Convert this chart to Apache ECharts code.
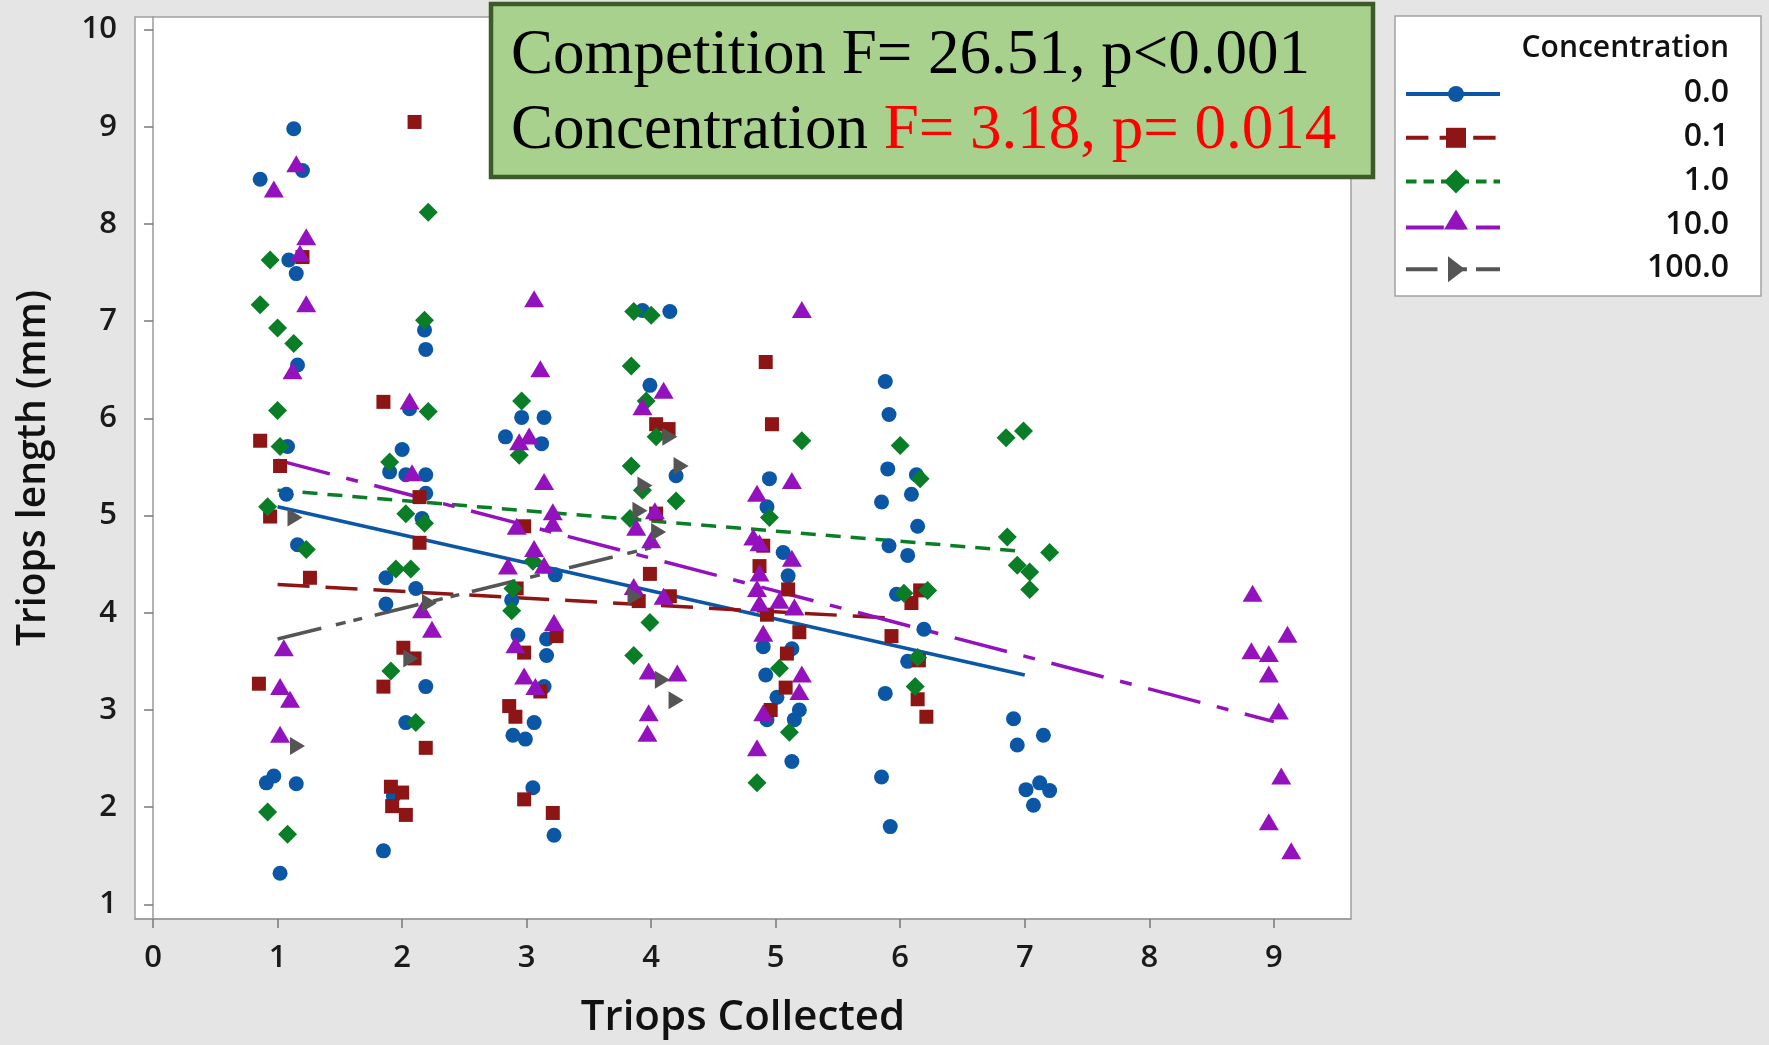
<!DOCTYPE html>
<html>
<head>
<meta charset="utf-8">
<script src="https://cdn.jsdelivr.net/npm/echarts@6/dist/echarts.min.js"></script>
<style>
  html, body { margin: 0; padding: 0; background: #e5e5e5; }
  #chart { width: 1769px; height: 1045px; }
</style>
</head>
<body>
<div id="chart"></div>
<script>
// Triops length vs number collected, by concentration (jittered x)
const concentrations = ["0.0", "0.1", "1.0", "10.0", "100.0"];
const xTicks = [0, 1, 2, 3, 4, 5, 6, 7, 8, 9];
const yTicks = [1, 2, 3, 4, 5, 6, 7, 8, 9, 10];

const pts00 = [
  [1.13, 8.98], [1.20, 8.55], [0.86, 8.46], [1.09, 7.63], [1.15, 7.49], [1.16, 6.55], [1.08, 5.71], [1.07, 5.22], [1.16, 4.70],
  [0.91, 2.25], [0.97, 2.32], [1.15, 2.24], [1.02, 1.32],
  [2.18, 6.91], [2.19, 6.71], [2.06, 6.10], [2.00, 5.68], [1.90, 5.45], [2.03, 5.42], [2.19, 5.42], [2.19, 5.23], [2.16, 4.97],
  [1.87, 4.36], [2.11, 4.25], [1.87, 4.09], [2.19, 3.24], [2.03, 2.87], [1.93, 2.11], [1.85, 1.55],
  [2.96, 6.01], [3.14, 6.01], [2.83, 5.81], [3.12, 5.74], [3.23, 4.39], [2.88, 4.13], [2.93, 3.77], [3.16, 3.73], [3.16, 3.56],
  [3.14, 3.24], [3.06, 2.87], [2.89, 2.74], [2.99, 2.70], [3.05, 2.20], [3.22, 1.71],
  [3.93, 7.11], [4.15, 7.10], [3.99, 6.34], [4.20, 5.41],
  [4.95, 5.38], [4.93, 5.09], [5.06, 4.62], [5.10, 4.38], [4.90, 3.65], [5.13, 3.63], [4.92, 3.36], [5.01, 3.13], [5.19, 3.00],
  [4.93, 2.90], [5.15, 2.90], [5.13, 2.47],
  [5.88, 6.38], [5.91, 6.04], [5.90, 5.48], [6.13, 5.42], [6.09, 5.22], [5.85, 5.14], [6.14, 4.89], [5.91, 4.69], [6.06, 4.59],
  [5.97, 4.19], [6.19, 3.83], [6.06, 3.50], [5.88, 3.17], [5.85, 2.31], [5.92, 1.80],
  [6.91, 2.91], [7.15, 2.74], [6.94, 2.64], [7.01, 2.18], [7.12, 2.25], [7.20, 2.17], [7.07, 2.02]
];
const pts01 = [
  [1.20, 7.66], [0.86, 5.77], [1.02, 5.51], [0.94, 4.99], [1.26, 4.36], [0.85, 3.27],
  [2.10, 9.05], [1.85, 6.17], [2.14, 5.19], [2.14, 4.72], [2.01, 3.64], [2.10, 3.53], [1.85, 3.24], [2.19, 2.61],
  [1.91, 2.21], [2.00, 2.15], [1.92, 2.01], [2.03, 1.92],
  [2.98, 4.89], [2.92, 4.25], [3.24, 3.76], [2.98, 3.59], [3.11, 3.19], [2.86, 3.04], [2.91, 2.93], [2.98, 2.08], [3.21, 1.94],
  [4.04, 5.94], [4.14, 5.89], [4.04, 5.02], [3.99, 4.40], [3.90, 4.12], [4.15, 4.17],
  [4.92, 6.58], [4.97, 5.94], [4.90, 4.69], [4.87, 4.48], [5.10, 4.24], [4.93, 3.98], [5.19, 3.80], [5.09, 3.58], [5.08, 3.23], [4.96, 3.00],
  [6.16, 4.23], [6.09, 4.10], [5.93, 3.76], [6.15, 3.51], [6.14, 3.11], [6.21, 2.93]
];
const pts1 = [
  [0.94, 7.63], [0.86, 7.17], [1.00, 6.93], [1.13, 6.77], [1.00, 6.08], [1.02, 5.71], [0.92, 5.09], [1.23, 4.65], [0.92, 1.95], [1.08, 1.72],
  [2.21, 8.12], [2.18, 7.01], [2.21, 6.07], [1.90, 5.55], [2.03, 5.02], [2.18, 4.92], [1.95, 4.45], [2.07, 4.45], [1.91, 3.40], [2.11, 2.87],
  [2.96, 6.18], [2.94, 5.62], [3.05, 4.53], [2.89, 4.25], [2.88, 4.02],
  [3.86, 7.10], [4.00, 7.06], [3.84, 6.54], [3.96, 6.18], [4.04, 5.81], [3.84, 5.51], [3.93, 5.26], [4.20, 5.15], [3.83, 4.97], [3.99, 3.90], [3.86, 3.56],
  [5.21, 5.77], [4.95, 4.98], [5.03, 3.43], [5.11, 2.77], [4.85, 2.25],
  [6.00, 5.72], [6.16, 5.38], [6.03, 4.20], [6.22, 4.23], [6.14, 3.54], [6.12, 3.24],
  [6.85, 5.80], [6.99, 5.87], [6.86, 4.78], [7.20, 4.62], [6.94, 4.49], [7.04, 4.42], [7.04, 4.24]
];
const pts10 = [
  [1.15, 8.62], [0.97, 8.36], [1.23, 7.87], [1.18, 7.70], [1.23, 7.18], [1.12, 6.49], [1.05, 3.64], [1.02, 3.24], [1.10, 3.11], [1.02, 2.75],
  [2.06, 6.18], [2.08, 5.44], [2.16, 4.03], [2.24, 3.83],
  [3.06, 7.23], [3.11, 6.51], [2.94, 5.76], [3.02, 5.82], [3.14, 5.35], [2.92, 4.89], [3.21, 5.04], [3.21, 4.92], [3.06, 4.66],
  [2.85, 4.48], [3.14, 4.49], [3.22, 3.90], [2.91, 3.67], [2.98, 3.35], [3.07, 3.24],
  [4.10, 6.29], [3.93, 6.12], [4.03, 5.05], [3.88, 4.88], [4.00, 4.75], [3.86, 4.27], [4.10, 4.17], [3.98, 3.40], [4.21, 3.38], [3.98, 2.97], [3.97, 2.76],
  [5.21, 7.12], [5.13, 5.36], [4.85, 5.23], [4.82, 4.78], [4.87, 4.72], [5.13, 4.56], [4.87, 4.41], [4.85, 4.25], [4.87, 4.10],
  [5.03, 4.13], [5.15, 4.06], [4.90, 3.79], [5.21, 3.37], [5.19, 3.19], [4.90, 2.97], [4.85, 2.61],
  [8.83, 4.20], [9.11, 3.78], [8.82, 3.61], [8.96, 3.58], [8.96, 3.37], [9.04, 2.99], [9.06, 2.32], [8.96, 1.85], [9.14, 1.55]
];
const pts100 = [
  [1.14, 4.98], [1.16, 2.63], [2.22, 4.10], [2.07, 3.53],
  [4.15, 5.81], [4.24, 5.51], [3.95, 5.31], [3.91, 5.05], [4.06, 4.83], [3.87, 4.17], [4.09, 3.31], [4.20, 3.10]
];

// fitted regression lines (start / end)
const fit00 = [[1, 5.09], [7, 3.36]];
const fit01 = [[1, 4.29], [6, 3.94]];
const fit1 = [[1, 5.26], [7, 4.63]];
const fit10 = [[1, 5.57], [9, 2.88]];
const fit100 = [[1, 3.73], [4, 4.67]];

const points = [pts00, pts01, pts1, pts10, pts100];
const fits = [fit00, fit01, fit1, fit10, fit100];

const colors = ["#0b57a6", "#8e1515", "#0a7d27", "#9412bd", "#555555"];
const symbols = ["circle", "rect", "diamond", "triangle", "triangle"];
const symbolSizes = [15, 14, 19, [20, 17], [18, 15]];
const symbolRotates = [0, 0, 0, 0, -90];
const dashes = ["solid", [32, 16], [15, 10], [54, 17, 12, 17], [45, 15, 10, 8, 9, 13]];

const uiFont = "Open Sans";

const chart = echarts.init(document.getElementById("chart"));

const series = [];
concentrations.forEach((c, i) => {
  series.push({
    name: c + " fit",
    type: "line",
    data: fits[i],
    symbol: "none",
    z: 2,
    silent: true,
    lineStyle: { color: colors[i], width: 3.5, type: dashes[i] },
  });
});
concentrations.forEach((c, i) => {
  series.push({
    name: c,
    type: "scatter",
    data: points[i],
    symbol: symbols[i],
    symbolSize: symbolSizes[i],
    symbolRotate: symbolRotates[i],
    z: 3 + i,
    itemStyle: { color: colors[i], opacity: 1 },
  });
});

// legend drawn by hand so labels can sit right-aligned like Minitab
const legendEls = [
  { type: "rect", z: 50, shape: { x: 1395, y: 16, width: 366, height: 280 }, style: { fill: "#fff", stroke: "#a3a3a3", lineWidth: 1.5 } },
  { type: "text", z: 51, x: 1729, y: 48, style: { text: "Concentration", font: `600 30px "${uiFont}"`, fill: "#111", align: "right", verticalAlign: "middle" } },
];
concentrations.forEach((c, i) => {
  const cy = 94 + i * 43.8;
  const cx = 1456;
  const lineY = i === 3 ? cy + 2 : cy;
  legendEls.push({
    type: "line", z: 51,
    shape: { x1: 1406, y1: lineY, x2: 1500, y2: lineY },
    style: { stroke: colors[i], lineWidth: 4, lineDash: Array.isArray(dashes[i]) ? dashes[i].map((d) => d * 0.7) : null },
  });
  let sym;
  if (i === 0) sym = { type: "circle", shape: { cx, cy, r: 8 } };
  else if (i === 1) sym = { type: "rect", shape: { x: cx - 10, y: cy - 10, width: 20, height: 20 } };
  else if (i === 2) sym = { type: "polygon", shape: { points: [[cx, cy - 12], [cx + 12, cy], [cx, cy + 12], [cx - 12, cy]] } };
  else if (i === 3) sym = { type: "polygon", shape: { points: [[cx, cy - 16], [cx + 12, cy + 4], [cx - 12, cy + 4]] } };
  else sym = { type: "polygon", shape: { points: [[cx - 8, cy - 13], [cx + 9, cy], [cx - 8, cy + 13]] } };
  sym.z = 52;
  sym.style = { fill: colors[i] };
  legendEls.push(sym);
  legendEls.push({
    type: "text", z: 51, x: 1729, y: cy - 1,
    style: { text: c, font: `600 32px "${uiFont}"`, fill: "#111", align: "right", verticalAlign: "middle" },
  });
});

const noteEls = [
  { type: "rect", z: 60, shape: { x: 491, y: 4, width: 882, height: 173 }, style: { fill: "#a9d18e", stroke: "#3d5a29", lineWidth: 4.5 } },
  { type: "text", z: 61, x: 511, y: 56, style: { text: "Competition F= 26.51, p<0.001", font: '63px "Liberation Serif"', fill: "#000", verticalAlign: "middle" } },
  {
    type: "text", z: 61, x: 511, y: 131,
    style: {
      text: "{k|Concentration }{r|F= 3.18, p= 0.014}",
      verticalAlign: "middle",
      rich: {
        k: { font: '63px "Liberation Serif"', fill: "#000" },
        r: { font: '63px "Liberation Serif"', fill: "#ff0000" },
      },
    },
  },
];

chart.setOption({
  animation: false,
  backgroundColor: "#e5e5e5",
  grid: {
    left: 135, top: 17, width: 1216, height: 902,
    show: true, backgroundColor: "#ffffff", borderColor: "#a0a0a0", borderWidth: 1.5,
  },
  xAxis: {
    type: "value",
    min: -0.145, max: 9.62,
    name: "Triops Collected",
    nameLocation: "middle",
    nameGap: 78,
    nameTextStyle: { fontFamily: uiFont, fontSize: 42, fontWeight: 600, color: "#111" },
    axisLine: { show: true, lineStyle: { color: "#9a9a9a", width: 1.5 } },
    axisTick: { show: true, length: 9, customValues: xTicks, lineStyle: { color: "#777", width: 1.5 } },
    axisLabel: { customValues: xTicks, margin: 24, fontFamily: uiFont, fontSize: 31, fontWeight: 600, color: "#1a1a1a" },
    splitLine: { show: false },
  },
  yAxis: {
    type: "value",
    min: 0.849, max: 10.13,
    name: "Triops length (mm)",
    nameLocation: "middle",
    nameGap: 82,
    nameTextStyle: { fontFamily: uiFont, fontSize: 39, fontWeight: 600, color: "#111" },
    axisLine: { show: true, lineStyle: { color: "#9a9a9a", width: 1.5 } },
    axisTick: { show: true, length: 9, customValues: yTicks, lineStyle: { color: "#777", width: 1.5 } },
    axisLabel: { customValues: yTicks, margin: 18, fontFamily: uiFont, fontSize: 31, fontWeight: 600, color: "#1a1a1a" },
    splitLine: { show: false },
  },
  series,
  graphic: legendEls.concat(noteEls),
});
</script>
</body>
</html>
